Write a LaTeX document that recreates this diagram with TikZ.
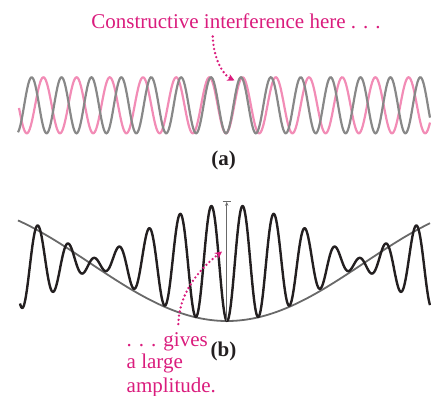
\documentclass[tikz,border=0pt]{standalone}
\usepackage{fontspec}
\setmainfont{Liberation Serif}
\usetikzlibrary{arrows.meta}
\definecolor{mag}{RGB}{218,28,125}
\definecolor{pinkw}{RGB}{242,140,182}
\definecolor{grayw}{RGB}{136,136,136}
\definecolor{darkw}{RGB}{35,31,32}
\definecolor{envg}{RGB}{105,105,105}
\begin{document}
\begin{tikzpicture}[x=1pt,y=-1pt,
  pinkwave/.style={pinkw,line width=2.2pt},
  graywave/.style={grayw,line width=2.2pt},
  sumwave/.style={darkw,line width=2.4pt,line join=round},
  envelope/.style={envg,line width=1.8pt},
  callout/.style={mag,line width=2.6pt,line cap=round,dash pattern=on 0pt off 4.2pt,
    -{Stealth[length=7pt,width=7pt,inset=2pt]}},
  magtext/.style={mag,inner sep=0pt,font=\fontsize{21}{22.5}\selectfont},
  partlabel/.style={darkw,inner sep=0pt,font=\fontsize{21}{22.5}\selectfont\bfseries},
  measure/.style={envg,line width=0.7pt}]
\useasboundingbox (0,0) rectangle (431,396);

% ---------- part (a) ----------
\node[magtext,anchor=base] (ctext) at (236,28.3) {Constructive interference here . . .};
\draw[pinkwave] plot[domain=19:430,samples=500,smooth] (\x,{105.3+28*cos(10.8434*(\x-226))});
\draw[graywave] plot[domain=18:430,samples=500,smooth] (\x,{105.3+28*cos(12.0401*(\x-226))});
\coordinate (a1) at (212.7,36.5);
\coordinate (a2) at (234.5,80.5);
\draw[callout] (a1) .. controls +(1,22) and +(-12,-6) .. (a2);
\node[partlabel,anchor=base] (la) at (223.5,165.5) {(a)};

% ---------- part (b) ----------
\draw[envelope] plot[domain=18:430,samples=300,smooth] (\x,{263+58*cos(0.6566*(\x-227))});
\draw[sumwave] plot[domain=20:430,samples=700,smooth]
  (\x,{263+31.5*cos(12.147*(\x-227))+26.5*cos(10.772*(\x-227))});
\coordinate (m1) at (226.7,321);
\coordinate (m2) at (226.7,201.8);
\draw[measure,-{Stealth[length=4pt,width=3.2pt]}] (m1) -- (m2);
\draw[measure] ([xshift=-4pt]m2) -- ([xshift=4pt]m2);
\coordinate (b1) at (178.3,324);
\coordinate (b2) at (222,251.5);
\draw[callout] (b1) .. controls +(1,-35) and +(-18,14) .. (b2);
\node[magtext,anchor=base west] (g1) at (126.5,346.5) {. . . gives};
\node[magtext,anchor=base west] (g2) at (126.5,368.5) {a large};
\node[magtext,anchor=base west] (g3) at (126.5,392.5) {amplitude.};
\node[partlabel,anchor=base] (lb) at (223.5,356.7) {(b)};
\end{tikzpicture}
\end{document}
